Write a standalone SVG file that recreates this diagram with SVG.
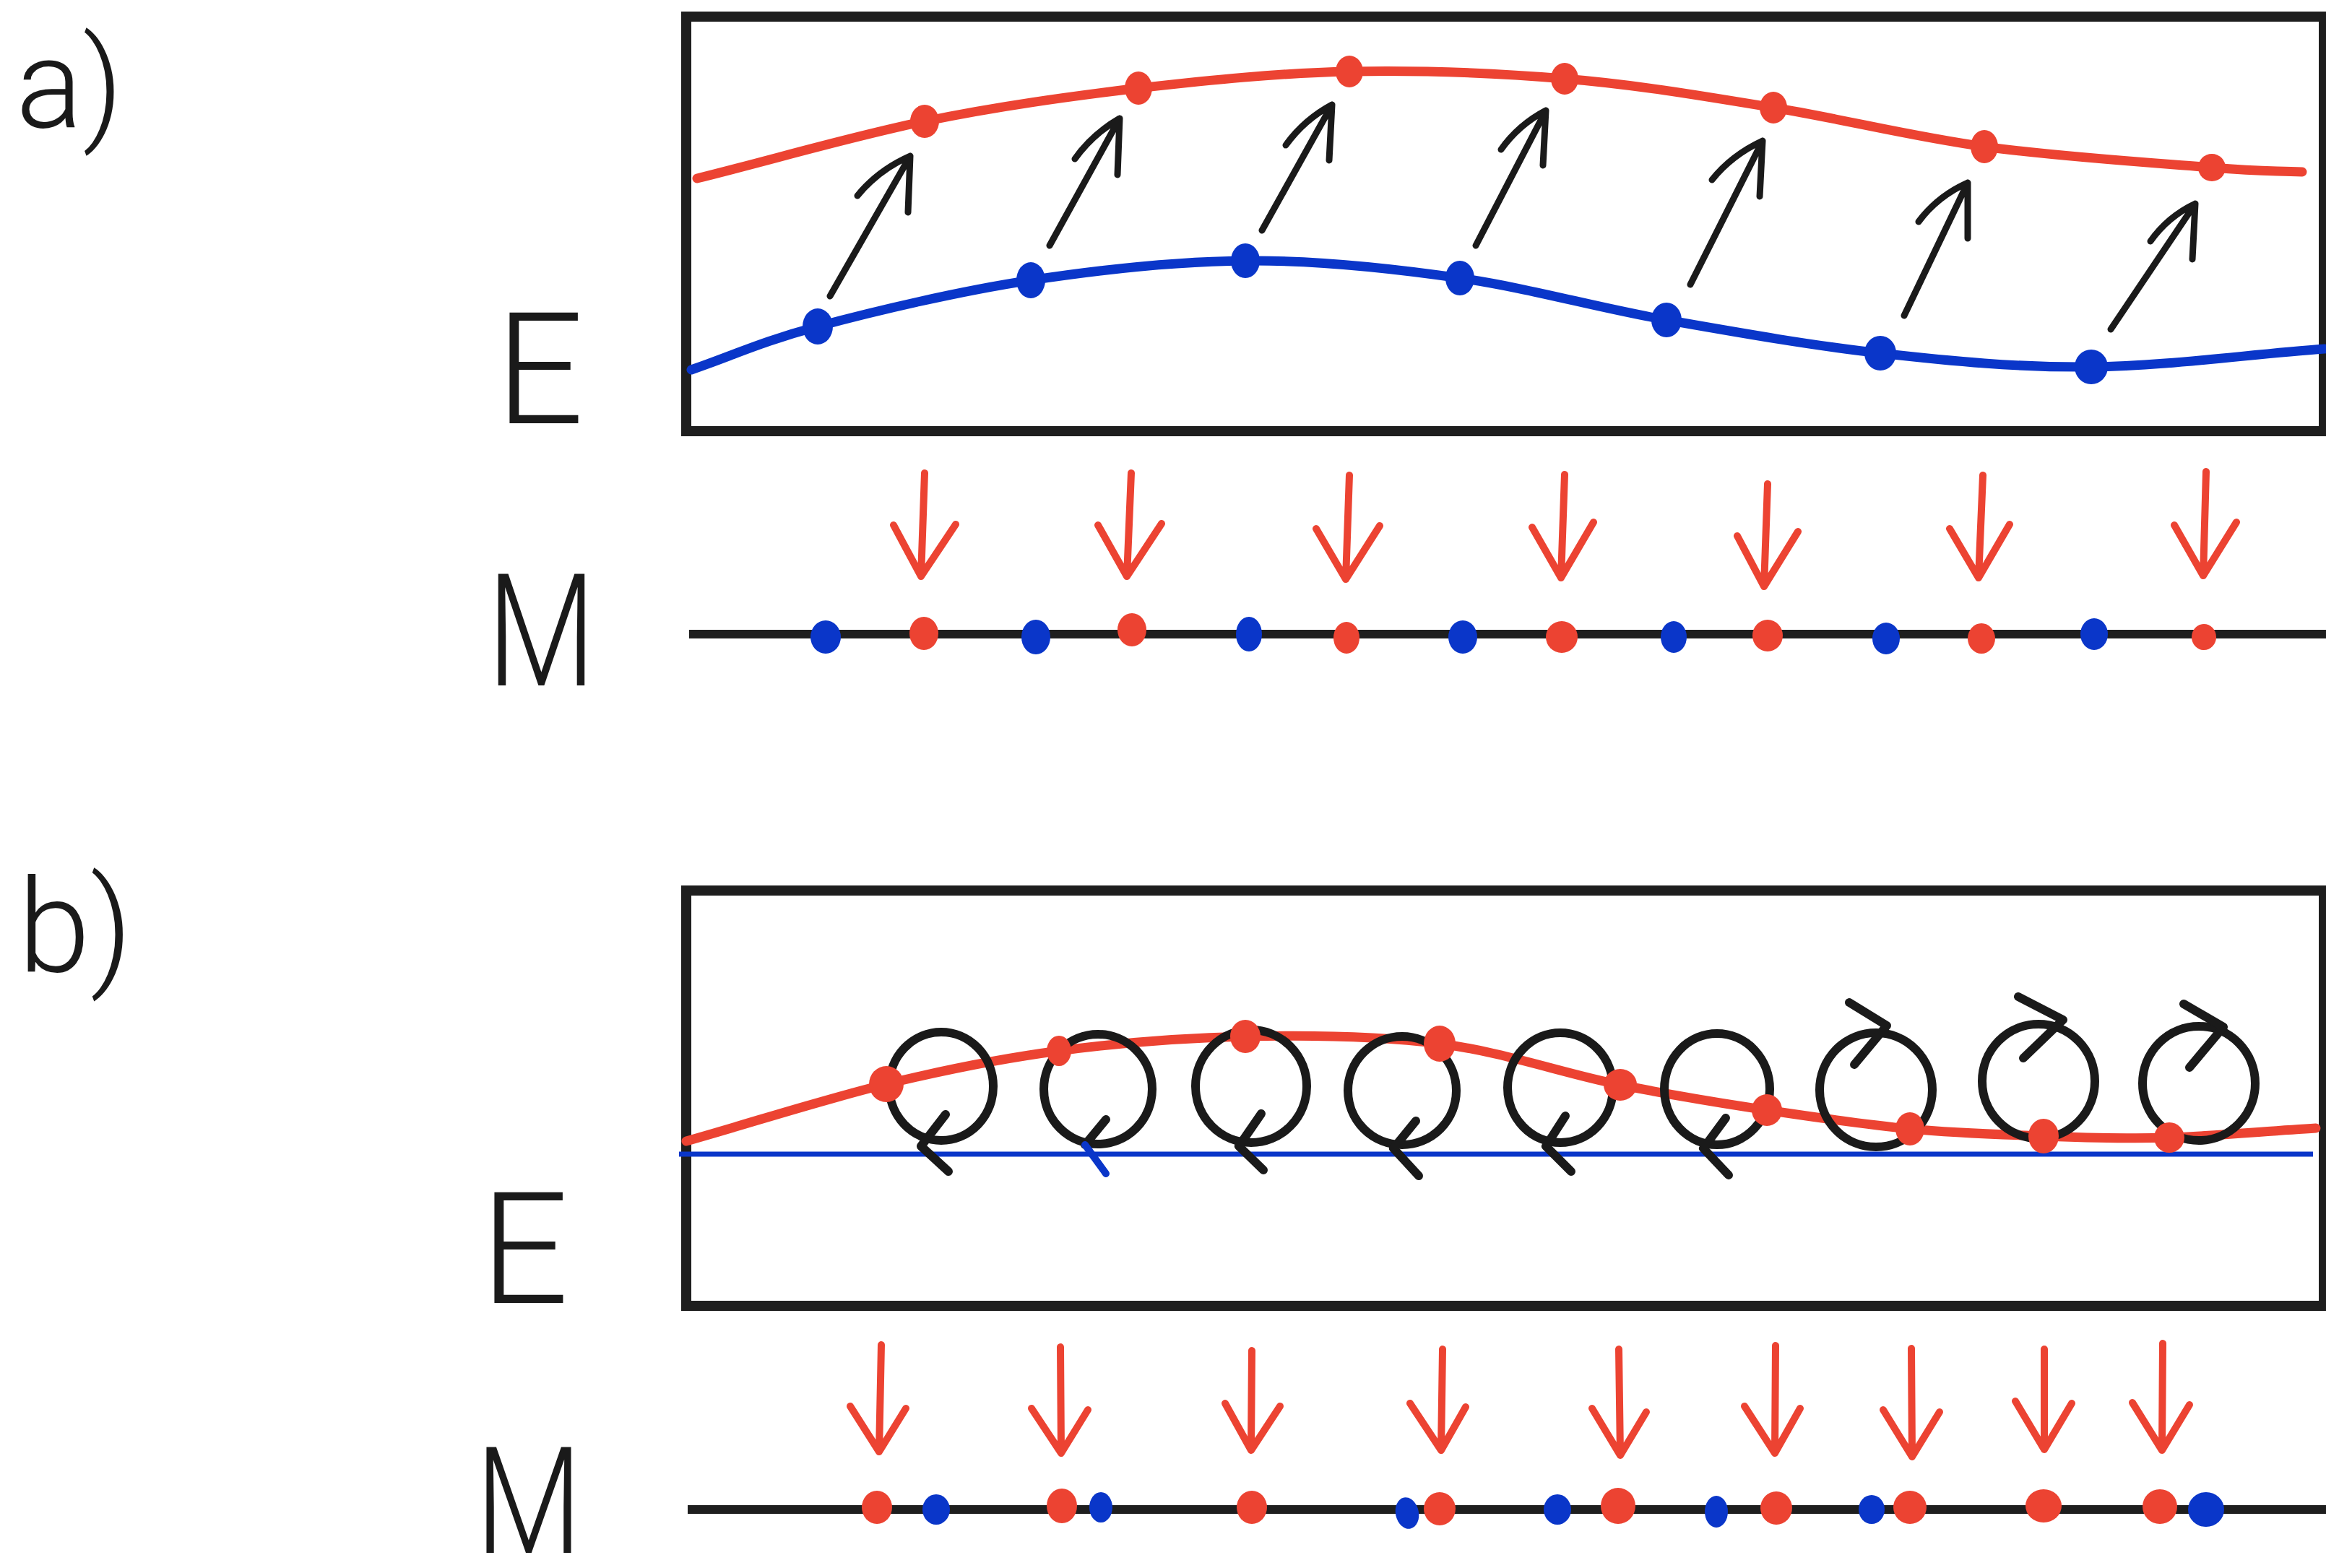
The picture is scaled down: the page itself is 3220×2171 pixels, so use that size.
<svg xmlns="http://www.w3.org/2000/svg" width="3220" height="2171" viewBox="0 0 3220 2171">
  <style>
    .frame { fill: none; stroke: #1e1e1e; stroke-width: 14; }
    .axis { stroke: #1e1e1e; stroke-width: 12; }
    .red-curve { fill: none; stroke: #ec4332; stroke-width: 13; stroke-linecap: round; }
    .blue-curve { fill: none; stroke: #0a36c9; stroke-width: 13; stroke-linecap: round; }
    .blue-flat { fill: none; stroke: #0a36c9; stroke-width: 7; }
    .rdot { fill: #ec4332; }
    .bdot { fill: #0a36c9; }
    .shift { fill: none; stroke: #1a1a1a; stroke-width: 9; stroke-linecap: round; stroke-linejoin: round; }
    .drop { fill: none; stroke: #ec4332; stroke-width: 10; stroke-linecap: round; stroke-linejoin: round; }
    .spin { fill: none; stroke: #1a1a1a; stroke-width: 12; stroke-linecap: round; stroke-linejoin: round; }
    .spin-blue { fill: none; stroke: #0a36c9; stroke-width: 10; stroke-linecap: round; }
    .label { font-family: Roboto, "Liberation Sans", sans-serif; font-weight: 300; fill: #1a1a1a; }
  </style>
  <rect width="3220" height="2171" fill="#ffffff"/>

  <!-- ===== Panel a ===== -->
  <g id="panel-a-labels">
    <text id="label-a" class="label" x="22" y="176" font-size="172">a)</text>
    <text id="label-a-E" class="label" x="686" y="586" font-size="215">E</text>
    <text id="label-a-M" class="label" font-size="218" transform="translate(674,949) scale(0.8,1)">M</text>
  </g>

  <g id="frame-a">
    <rect class="frame" x="950" y="23" width="2267" height="574"/>
  </g>

  <g id="band-a">
    <path id="band-a-upper" class="red-curve" d="M965,247 C1070,221 1178,189 1280,168 C1382,147 1478,134 1576,122 C1674,111 1770,101 1868,99 C1966,97 2068,101 2166,109 C2264,117 2358,133 2455,149 C2552,165 2646,189 2747,203 C2848,217 2989,226 3062,232 C3135,238 3145,236 3187,238"/>
    <path id="band-a-lower" class="blue-curve" d="M957,512 C1015,492 1054,473 1132,452 C1210,431 1328,403 1427,388 C1526,373 1625,362 1724,361 C1823,360 1924,371 2021,385 C2118,399 2210,426 2307,443 C2404,460 2505,478 2603,489 C2701,500 2792,509 2895,508 C2997,507 3110,491 3218,483"/>
  </g>

  <g id="states-a-lower">
    <ellipse class="bdot" cx="1132" cy="452" rx="21" ry="25"/>
    <ellipse class="bdot" cx="1427" cy="388" rx="20" ry="25"/>
    <ellipse class="bdot" cx="1724" cy="361" rx="20" ry="24"/>
    <ellipse class="bdot" cx="2021" cy="385" rx="20" ry="24"/>
    <ellipse class="bdot" cx="2307" cy="443" rx="21" ry="24"/>
    <ellipse class="bdot" cx="2603" cy="489" rx="22" ry="24"/>
    <ellipse class="bdot" cx="2895" cy="508" rx="23" ry="24"/>
  </g>
  <g id="states-a-upper">
    <ellipse class="rdot" cx="1280" cy="168" rx="20" ry="23"/>
    <ellipse class="rdot" cx="1576" cy="122" rx="19" ry="23"/>
    <ellipse class="rdot" cx="1868" cy="99" rx="19" ry="22"/>
    <ellipse class="rdot" cx="2166" cy="109" rx="19" ry="22"/>
    <ellipse class="rdot" cx="2455" cy="149" rx="19" ry="22"/>
    <ellipse class="rdot" cx="2747" cy="203" rx="19" ry="23"/>
    <ellipse class="rdot" cx="3062" cy="232" rx="19" ry="19"/>
  </g>

  <g id="axis-a">
    <line class="axis" x1="954" y1="878" x2="3220" y2="878"/>
  </g>
  <g id="points-a">
    <ellipse class="bdot" cx="1143" cy="882" rx="21" ry="23"/>
    <ellipse class="rdot" cx="1279" cy="877" rx="20" ry="23"/>
    <ellipse class="bdot" cx="1434" cy="882" rx="20" ry="24"/>
    <ellipse class="rdot" cx="1567" cy="872" rx="20" ry="23"/>
    <ellipse class="bdot" cx="1729" cy="878" rx="18" ry="24"/>
    <ellipse class="rdot" cx="1864" cy="883" rx="18" ry="22"/>
    <ellipse class="bdot" cx="2025" cy="882" rx="20" ry="23"/>
    <ellipse class="rdot" cx="2162" cy="882" rx="22" ry="22"/>
    <ellipse class="bdot" cx="2317" cy="882" rx="18" ry="22"/>
    <ellipse class="rdot" cx="2447" cy="880" rx="21" ry="22"/>
    <ellipse class="bdot" cx="2611" cy="884" rx="19" ry="22"/>
    <ellipse class="rdot" cx="2743" cy="884" rx="19" ry="21"/>
    <ellipse class="bdot" cx="2899" cy="878" rx="19" ry="22"/>
    <ellipse class="rdot" cx="3051" cy="882" rx="17" ry="18"/>
  </g>

  <!-- connectors of panel a: shifts between bands and drops onto the axis -->
  <g id="connectors-a">
    <path class="shift" d="M1149,410 L1260,216 M1187,271 Q1215,236 1260,216 L1257,294"/>
    <path class="shift" d="M1453,340 L1550,164 M1488,220 Q1512,186 1550,164 L1547,242"/>
    <path class="shift" d="M1747,319 L1844,145 M1780,201 Q1805,166 1844,145 L1840,222"/>
    <path class="shift" d="M2043,340 L2140,153 M2078,207 Q2102,173 2140,153 L2136,229"/>
    <path class="shift" d="M2340,394 L2440,195 M2370,249 Q2397,215 2440,195 L2436,272"/>
    <path class="shift" d="M2636,437 L2724,253 M2656,307 Q2682,272 2724,253 L2724,330"/>
    <path class="shift" d="M2922,456 L3039,282 M2977,334 Q3001,300 3039,282 L3035,359"/>

    <path class="drop" d="M1280,655 L1275,798 M1237,727 L1275,798 L1323,726"/>
    <path class="drop" d="M1566,655 L1560,798 M1520,727 L1560,798 L1608,725"/>
    <path class="drop" d="M1868,658 L1863,802 M1822,732 L1863,802 L1910,728"/>
    <path class="drop" d="M2166,657 L2161,800 M2121,730 L2161,800 L2206,723"/>
    <path class="drop" d="M2447,670 L2442,812 M2405,742 L2442,812 L2489,736"/>
    <path class="drop" d="M2745,658 L2739,800 M2699,732 L2739,800 L2782,726"/>
    <path class="drop" d="M3054,653 L3050,797 M3010,727 L3050,797 L3096,723"/>
  </g>

  <!-- ===== Panel b ===== -->
  <g id="panel-b-labels">
    <text id="label-b" class="label" x="25" y="1345" font-size="180">b)</text>
    <text id="label-b-E" class="label" x="665" y="1804" font-size="215">E</text>
    <text id="label-b-M" class="label" font-size="206" transform="translate(658,2150) scale(0.83,1)">M</text>
  </g>

  <g id="frame-b">
    <rect class="frame" x="950" y="1233" width="2267" height="575"/>
  </g>

  <g id="band-b">
    <line id="band-b-lower" class="blue-flat" x1="940" y1="1598" x2="3202" y2="1598"/>
    <path id="band-b-upper" class="red-curve" d="M950,1580 C1042,1554 1141,1522 1227,1501 C1313,1480 1383,1466 1466,1455 C1549,1444 1636,1437 1724,1435 C1812,1433 1906,1434 1993,1445 C2080,1456 2167,1487 2243,1502 C2318,1517 2379,1527 2446,1537 C2513,1547 2580,1557 2644,1563 C2708,1569 2769,1571 2829,1573 C2889,1575 2940,1577 3003,1575 C3066,1573 3138,1566 3206,1562"/>
  </g>

  <g id="spins-b">
    <g id="spin-1"><ellipse class="spin" cx="1303" cy="1504" rx="72" ry="75"/><path class="spin" d="M1309,1543 L1275,1587 L1313,1622"/></g>
    <g id="spin-2"><ellipse class="spin" cx="1520" cy="1508" rx="75" ry="76"/><path class="spin" d="M1531,1550 L1502,1585"/><path class="spin-blue" d="M1502,1585 L1531,1625"/></g>
    <g id="spin-3"><ellipse class="spin" cx="1732" cy="1504" rx="77" ry="78"/><path class="spin" d="M1746,1542 L1715,1587 L1749,1620"/></g>
    <g id="spin-4"><ellipse class="spin" cx="1941" cy="1510" rx="75" ry="75"/><path class="spin" d="M1960,1552 L1929,1590 L1964,1628"/></g>
    <g id="spin-5"><ellipse class="spin" cx="2160" cy="1506" rx="73" ry="76"/><path class="spin" d="M2167,1545 L2140,1587 L2175,1622"/></g>
    <g id="spin-6"><ellipse class="spin" cx="2377" cy="1508" rx="73" ry="77"/><path class="spin" d="M2389,1548 L2358,1590 L2393,1627"/></g>
    <g id="spin-7"><ellipse class="spin" cx="2597" cy="1509" rx="78" ry="79"/><path class="spin" d="M2560,1388 L2612,1420 L2567,1474"/></g>
    <g id="spin-8"><ellipse class="spin" cx="2822" cy="1497" rx="78" ry="79"/><path class="spin" d="M2794,1380 L2856,1412 L2801,1465"/></g>
    <g id="spin-9"><ellipse class="spin" cx="3044" cy="1500" rx="78" ry="79"/><path class="spin" d="M3023,1390 L3078,1422 L3031,1478"/></g>
  </g>

  <g id="states-b-upper">
    <ellipse class="rdot" cx="1227" cy="1501" rx="24" ry="25"/>
    <ellipse class="rdot" cx="1466" cy="1455" rx="17" ry="21"/>
    <ellipse class="rdot" cx="1724" cy="1435" rx="21" ry="23"/>
    <ellipse class="rdot" cx="1993" cy="1445" rx="22" ry="25"/>
    <ellipse class="rdot" cx="2243" cy="1502" rx="23" ry="22"/>
    <ellipse class="rdot" cx="2446" cy="1537" rx="21" ry="22"/>
    <ellipse class="rdot" cx="2644" cy="1563" rx="20" ry="23"/>
    <ellipse class="rdot" cx="2829" cy="1573" rx="21" ry="24"/>
    <ellipse class="rdot" cx="3003" cy="1575" rx="21" ry="21"/>
  </g>

  <g id="axis-b">
    <line class="axis" x1="952" y1="2090" x2="3220" y2="2090"/>
  </g>
  <g id="points-b">
    <ellipse class="rdot" cx="1214" cy="2087" rx="21" ry="23"/>
    <ellipse class="bdot" cx="1296" cy="2090" rx="19" ry="21"/>
    <ellipse class="rdot" cx="1470" cy="2085" rx="21" ry="24"/>
    <ellipse class="bdot" cx="1524" cy="2087" rx="16" ry="21"/>
    <ellipse class="rdot" cx="1733" cy="2087" rx="21" ry="23"/>
    <ellipse class="bdot" cx="1948" cy="2095" rx="16" ry="22" transform="rotate(-12 1948 2095)"/>
    <ellipse class="rdot" cx="1993" cy="2089" rx="22" ry="23"/>
    <ellipse class="bdot" cx="2156" cy="2090" rx="19" ry="21"/>
    <ellipse class="rdot" cx="2240" cy="2085" rx="24" ry="25"/>
    <ellipse class="bdot" cx="2376" cy="2093" rx="16" ry="22"/>
    <ellipse class="rdot" cx="2459" cy="2088" rx="22" ry="23"/>
    <ellipse class="bdot" cx="2591" cy="2090" rx="18" ry="20"/>
    <ellipse class="rdot" cx="2644" cy="2087" rx="23" ry="23"/>
    <ellipse class="rdot" cx="2829" cy="2085" rx="25" ry="23"/>
    <ellipse class="rdot" cx="2990" cy="2086" rx="24" ry="24"/>
    <ellipse class="bdot" cx="3054" cy="2090" rx="25" ry="24"/>
  </g>

  <!-- connectors of panel b: drops onto the axis -->
  <g id="connectors-b">
    <path class="drop" d="M1220,1862 L1217,2010 M1177,1947 L1217,2010 L1254,1950"/>
    <path class="drop" d="M1468,1865 L1469,2012 M1428,1950 L1469,2012 L1506,1952"/>
    <path class="drop" d="M1733,1870 L1732,2008 M1696,1943 L1732,2008 L1772,1947"/>
    <path class="drop" d="M1997,1868 L1995,2008 M1952,1943 L1995,2008 L2029,1948"/>
    <path class="drop" d="M2241,1868 L2243,2015 M2204,1950 L2243,2015 L2279,1955"/>
    <path class="drop" d="M2458,1863 L2457,2012 M2415,1947 L2457,2012 L2492,1950"/>
    <path class="drop" d="M2646,1867 L2647,2017 M2607,1952 L2647,2017 L2685,1955"/>
    <path class="drop" d="M2830,1868 L2830,2007 M2790,1940 L2830,2007 L2868,1943"/>
    <path class="drop" d="M2994,1860 L2993,2008 M2952,1942 L2993,2008 L3031,1945"/>
  </g>
</svg>
